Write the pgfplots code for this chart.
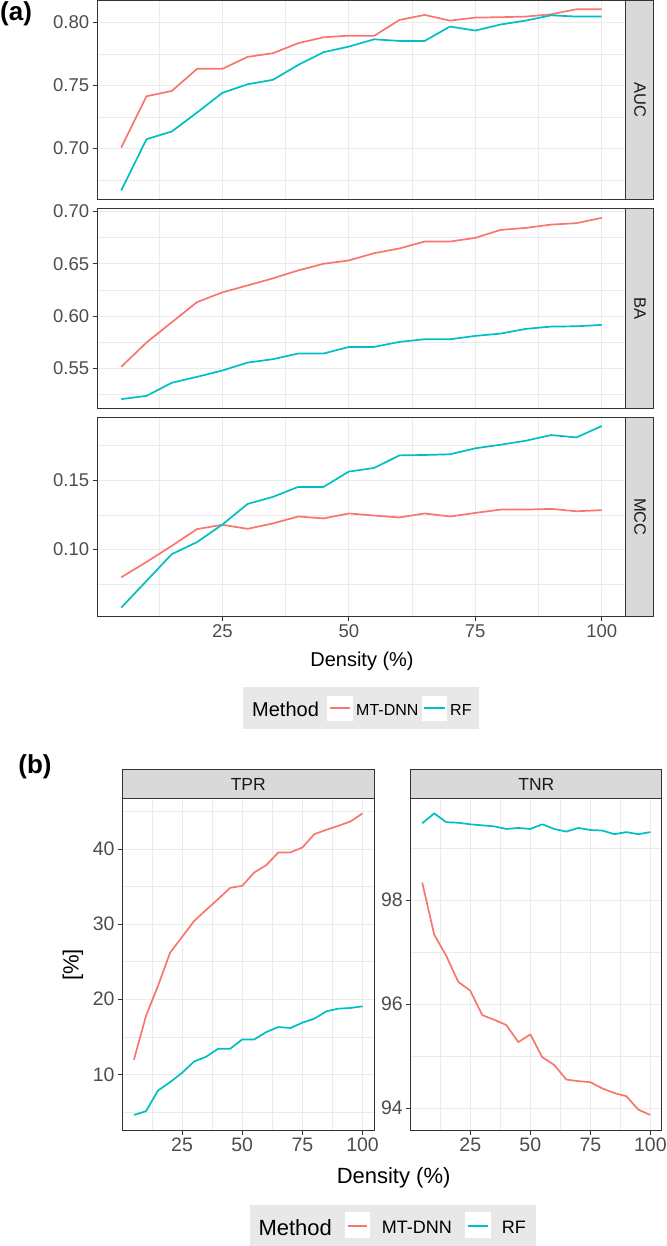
\documentclass[border=0pt]{standalone}
\usepackage{fontspec}
\setmainfont{Liberation Sans}
\usepackage{pgfplots}
\usepackage{pgfplotstable}
\pgfplotsset{compat=1.18}
\newcommand\fs[1]{\fontsize{#1}{#1}\selectfont}
\definecolor{ggred}{HTML}{F8766D}
\definecolor{ggcyan}{HTML}{00BFC4}
\definecolor{gridc}{HTML}{EBEBEB}
\definecolor{bord}{HTML}{333333}
\definecolor{tickc}{HTML}{4D4D4D}
\definecolor{stripc}{HTML}{D9D9D9}
\definecolor{stript}{HTML}{1A1A1A}
\definecolor{legc}{HTML}{E8E8E8}

\pgfplotstableread{
x mt rf
5 0.7008 0.6668
10 0.7414 0.7074
15 0.7456 0.7135
20 0.7631 0.7285
25 0.7631 0.7441
30 0.7726 0.7509
35 0.7755 0.7544
40 0.7834 0.7662
45 0.7881 0.7763
50 0.7894 0.7807
55 0.7892 0.7865
60 0.8018 0.7852
65 0.8058 0.7852
70 0.8013 0.7966
75 0.8037 0.7934
80 0.8040 0.7982
85 0.8045 0.8013
90 0.8063 0.8055
95 0.8103 0.8045
100 0.8103 0.8045
}\auc

\pgfplotstableread{
x mt rf
5 0.5516 0.5208
10 0.5748 0.5239
15 0.5941 0.5364
20 0.6134 0.5421
25 0.6226 0.5481
30 0.6293 0.5557
35 0.6360 0.5589
40 0.6436 0.5643
45 0.6499 0.5643
50 0.6531 0.5706
55 0.6600 0.5706
60 0.6645 0.5754
65 0.6711 0.5779
70 0.6711 0.5779
75 0.6746 0.5811
80 0.6822 0.5833
85 0.6841 0.5878
90 0.6873 0.5900
95 0.6886 0.5903
100 0.6937 0.5916
}\ba

\pgfplotstableread{
x mt rf
5 0.0798 0.0579
10 0.0909 0.0772
15 0.1026 0.0966
20 0.1147 0.1053
25 0.1178 0.1180
30 0.1149 0.1329
35 0.1188 0.1380
40 0.1238 0.1452
45 0.1224 0.1452
50 0.1260 0.1563
55 0.1245 0.1589
60 0.1231 0.1680
65 0.1260 0.1683
70 0.1238 0.1688
75 0.1264 0.1731
80 0.1288 0.1757
85 0.1288 0.1786
90 0.1293 0.1827
95 0.1276 0.1810
100 0.1284 0.1892
}\mcc

\pgfplotstableread{
x mt rf
5 11.94 4.59
10 17.77 5.08
15 21.78 7.84
20 26.19 8.95
25 28.30 10.20
30 30.42 11.71
35 31.90 12.34
40 33.35 13.41
45 34.84 13.41
50 35.11 14.65
55 36.89 14.65
60 37.87 15.63
65 39.56 16.30
70 39.56 16.17
75 40.22 16.88
80 42.00 17.42
85 42.58 18.40
90 43.11 18.75
95 43.69 18.84
100 44.76 19.06
}\tpr

\pgfplotstableread{
x mt rf
5 98.34 99.48
10 97.34 99.67
15 96.93 99.50
20 96.43 99.49
25 96.26 99.46
30 95.79 99.44
35 95.70 99.42
40 95.60 99.37
45 95.27 99.39
50 95.42 99.37
55 94.98 99.46
60 94.83 99.37
65 94.55 99.32
70 94.52 99.39
75 94.50 99.35
80 94.38 99.34
85 94.29 99.27
90 94.23 99.31
95 93.97 99.27
100 93.87 99.31
}\tnr

\pgfplotsset{
  gg/.style={
    scale only axis, xmin=0.25, xmax=104.75,
    axis line style={draw=bord, line width=0.9pt},
    grid=both,
    major grid style={draw=gridc, line width=1pt},
    minor grid style={draw=gridc, line width=0.5pt},
    tick align=outside, major tick length=4.5pt, minor tick length=0pt,
    tick style={draw=bord, line width=0.9pt},
    xtick pos=left, ytick pos=left,
    xtick={25,50,75,100}, minor xtick={12.5,37.5,62.5,87.5},
    xticklabels={25,50,75,100},
    tick label style={text=tickc},
    every axis plot/.append style={line width=1.7pt, line join=round, mark=none},
  },
  gga/.style={gg, width=528.5pt, tick label style={font=\fs{18.5}}},
  ggb/.style={gg, height=331.7pt, tick label style={font=\fs{19.5}}},
  nox/.style={xticklabels={}, xtick style={draw=none}},
}

\begin{document}
\begin{tikzpicture}
\path[use as bounding box] (0pt,0pt) rectangle (666pt,-1246pt);

% ---------- (a) AUC
\begin{axis}[gga, nox, at={(97.2pt,-0.2pt)}, anchor=north west, height=199.3pt,
  ymin=0.65963, ymax=0.81747,
  ytick={0.70,0.75,0.80}, yticklabels={0.70,0.75,0.80},
  minor ytick={0.675,0.725,0.775}]
\addplot[ggred] table[x=x,y=mt]{\auc};
\addplot[ggcyan] table[x=x,y=rf]{\auc};
\end{axis}

% ---------- (a) BA
\begin{axis}[gga, nox, at={(97.2pt,-208.8pt)}, anchor=north west, height=199.4pt,
  ymin=0.51216, ymax=0.70234,
  ytick={0.55,0.60,0.65,0.70}, yticklabels={0.55,0.60,0.65,0.70},
  minor ytick={0.525,0.575,0.625,0.675}]
\addplot[ggred] table[x=x,y=mt]{\ba};
\addplot[ggcyan] table[x=x,y=rf]{\ba};
\end{axis}

% ---------- (a) MCC
\begin{axis}[gga, at={(97.2pt,-417pt)}, anchor=north west, height=199.7pt,
  ymin=0.051335, ymax=0.195765,
  ytick={0.10,0.15}, yticklabels={0.10,0.15},
  minor ytick={0.075,0.125,0.175}]
\addplot[ggred] table[x=x,y=mt]{\mcc};
\addplot[ggcyan] table[x=x,y=rf]{\mcc};
\end{axis}

% strips (a)
\foreach \top/\bot/\lab in {0.2/199.5/AUC, 208.8/408.2/BA, 417/616.7/MCC}{
  \draw[fill=stripc, draw=bord, line width=0.9pt] (625.7pt,-\top pt) rectangle (653.5pt,-\bot pt);
  \node[rotate=-90, text=stript, font=\fs{16.5}, inner sep=0pt] at (640pt,{-(\top+\bot)/2*1pt}) {\lab};
}
\node[font=\fs{20}, inner sep=0pt] at (362pt,-661pt) {Density (\%)};
\node[font=\bfseries\fs{26}, inner sep=0pt, anchor=west] at (0pt,-14pt) {(a)};

% legend (a)
\fill[legc] (243.3pt,-687pt) rectangle (479.3pt,-729pt);
\node[anchor=west, inner sep=0pt, font=\fs{20}] at (252pt,-709.5pt) {Method};
\fill[white] (327.3pt,-695.7pt) rectangle (352.7pt,-720.7pt);
\fill[ggred] (330pt,-707.3pt) rectangle (350pt,-709.1pt);
\node[anchor=west, inner sep=0pt, font=\fs{16}] at (356pt,-709.5pt) {MT-DNN};
\fill[white] (421.7pt,-695.7pt) rectangle (446.7pt,-720.7pt);
\fill[ggcyan] (423.7pt,-707.3pt) rectangle (444.7pt,-709.1pt);
\node[anchor=west, inner sep=0pt, font=\fs{16}] at (450pt,-709.5pt) {RF};

% ---------- (b) TPR
\begin{axis}[ggb, at={(122.5pt,-798.3pt)}, anchor=north west, width=251.5pt,
  ymin=2.5815, ymax=46.7685,
  ytick={10,20,30,40}, yticklabels={10,20,30,40},
  minor ytick={5,15,25,35,45}]
\addplot[ggred] table[x=x,y=mt]{\tpr};
\addplot[ggcyan] table[x=x,y=rf]{\tpr};
\end{axis}

% ---------- (b) TNR
\begin{axis}[ggb, at={(410.8pt,-798.3pt)}, anchor=north west, width=251pt,
  ymin=93.58, ymax=99.96,
  ytick={94,96,98}, yticklabels={94,96,98},
  minor ytick={95,97,99}]
\addplot[ggred] table[x=x,y=mt]{\tnr};
\addplot[ggcyan] table[x=x,y=rf]{\tnr};
\end{axis}

% strips (b)
\draw[fill=stripc, draw=bord, line width=0.9pt] (122.5pt,-769.3pt) rectangle (374pt,-798.3pt);
\node[text=stript, font=\fs{17.5}, inner sep=0pt] at (248.25pt,-784.5pt) {TPR};
\draw[fill=stripc, draw=bord, line width=0.9pt] (410.8pt,-769.3pt) rectangle (661.8pt,-798.3pt);
\node[text=stript, font=\fs{17.5}, inner sep=0pt] at (536.3pt,-784.5pt) {TNR};

\node[font=\fs{22}, inner sep=0pt, rotate=90] at (73pt,-965pt) {[\%]};
\node[font=\fs{22}, inner sep=0pt] at (393.6pt,-1178pt) {Density (\%)};
\node[font=\bfseries\fs{26}, inner sep=0pt] at (35pt,-767pt) {(b)};

% legend (b)
\fill[legc] (250pt,-1205pt) rectangle (536pt,-1250pt);
\node[anchor=west, inner sep=0pt, font=\fs{22}] at (258.3pt,-1227.5pt) {Method};
\fill[white] (345pt,-1212.3pt) rectangle (370pt,-1238.3pt);
\fill[ggred] (348pt,-1224.5pt) rectangle (367pt,-1226.5pt);
\node[anchor=west, inner sep=0pt, font=\fs{18}] at (381.7pt,-1227pt) {MT-DNN};
\fill[white] (465pt,-1212.3pt) rectangle (490.7pt,-1238.3pt);
\fill[ggcyan] (468pt,-1224.5pt) rectangle (488pt,-1226.5pt);
\node[anchor=west, inner sep=0pt, font=\fs{18}] at (501.7pt,-1227pt) {RF};
\end{tikzpicture}
\end{document}
